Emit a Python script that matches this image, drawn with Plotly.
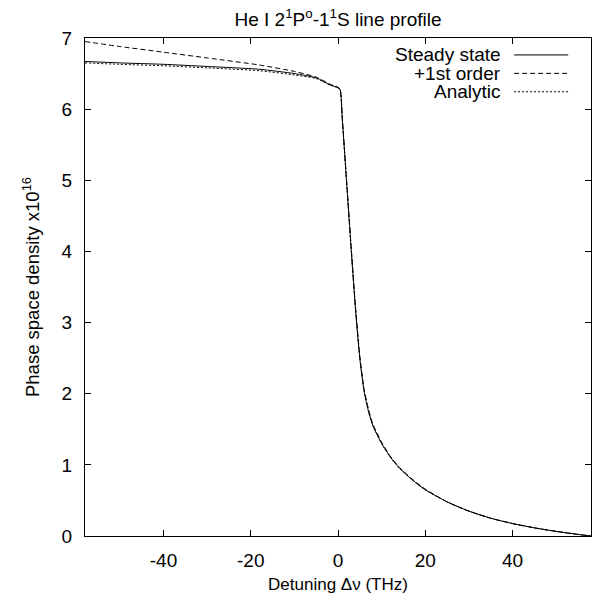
import plotly.graph_objects as go

# 데이터
detuning = [-58, -50, -40, -30, -18, -10, -5, -1.8, 0, 0.5, 1.0, 2.0, 3.0, 4.0, 5.0,
            6.0, 7.0, 8.0, 10, 12, 14, 17, 20, 25, 30, 35, 40, 45, 50, 55, 58]

steady_state = [6.67, 6.65, 6.63, 6.60, 6.56, 6.50, 6.44, 6.34, 6.30, 6.27, 5.85,
                4.95, 4.05, 3.20, 2.50, 2.03, 1.75, 1.55, 1.30, 1.11, 0.96, 0.79,
                0.65, 0.48, 0.35, 0.25, 0.175, 0.115, 0.065, 0.022, 0.0]

first_order = [6.95, 6.88, 6.80, 6.72, 6.62, 6.53, 6.45, 6.35, 6.31, 6.27, 5.86,
               4.97, 4.08, 3.23, 2.53, 2.06, 1.78, 1.57, 1.32, 1.12, 0.97, 0.80,
               0.66, 0.48, 0.35, 0.25, 0.175, 0.115, 0.065, 0.022, 0.0]

analytic = [6.65, 6.63, 6.61, 6.58, 6.54, 6.48, 6.43, 6.34, 6.30, 6.27, 5.85,
            4.95, 4.05, 3.20, 2.50, 2.03, 1.75, 1.55, 1.30, 1.11, 0.96, 0.79,
            0.65, 0.48, 0.35, 0.25, 0.175, 0.115, 0.065, 0.022, 0.0]

series_names = ['Steady state', '+1st order', 'Analytic']
series_dash = ['solid', '5px,3px', '2px,2px']

FONT = 'Liberation Sans, Arial, sans-serif'

fig = go.Figure()
for name, ys, dash in zip(series_names, [steady_state, first_order, analytic], series_dash):
    fig.add_trace(go.Scatter(
        x=detuning,
        y=ys,
        mode='lines',
        name=name,
        line=dict(color='black', width=1, dash=dash, shape='spline', smoothing=0.6),
        showlegend=False
    ))

# gnuplot 스타일 범례: 텍스트 오른쪽 정렬 + 선 샘플
legend_y = [0.966, 0.929, 0.892]
for name, dash, y in zip(series_names, series_dash, legend_y):
    fig.add_annotation(
        x=0.826, y=y, xref='paper', yref='paper',
        text=name, showarrow=False, xanchor='right', yanchor='middle',
        font=dict(family=FONT, size=19, color='black')
    )
    fig.add_shape(
        type='line', xref='paper', yref='paper',
        x0=0.848, x1=0.955, y0=y, y1=y,
        line=dict(color='black', width=1, dash=dash)
    )

fig.update_layout(
    width=600,
    height=586,
    margin=dict(l=77, r=17, t=30, b=58),
    paper_bgcolor='white',
    plot_bgcolor='white',
    font=dict(family=FONT, size=19, color='black'),
    title=dict(
        text='He I 2<sup>1</sup>P<sup>o</sup>-1<sup>1</sup>S line profile',
        x=0.5, xref='paper', y=1.0, yanchor='top', pad=dict(t=5),
        font=dict(family=FONT, size=19, color='black')
    ),
    xaxis=dict(
        range=[-58, 58],
        tickvals=[-40, -20, 0, 20, 40],
        ticktext=['-40', '-20', '0', '20', '40'],
        ticks='inside', ticklen=6, tickcolor='black',
        showline=True, linecolor='black', linewidth=1, mirror='ticks',
        showgrid=False, zeroline=False, automargin=False,
        ticklabelstandoff=7,
        title=dict(text='Detuning Δν (THz)', standoff=8,
                   font=dict(family=FONT, size=17, color='black'))
    ),
    yaxis=dict(
        range=[0, 7],
        tickvals=[0, 1, 2, 3, 4, 5, 6, 7],
        ticks='inside', ticklen=6, tickcolor='black',
        showline=True, linecolor='black', linewidth=1, mirror='ticks',
        showgrid=False, zeroline=False, automargin=False,
        ticklabelstandoff=8,
        title=dict(text='Phase space density x10<sup>16</sup>', standoff=17,
                   font=dict(family=FONT, size=18.5, color='black'))
    )
)

fig.write_html("out.html")
